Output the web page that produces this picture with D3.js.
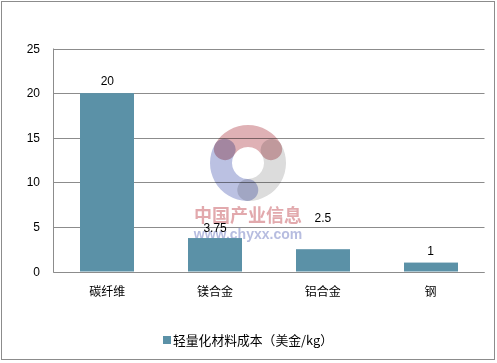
<!DOCTYPE html>
<html>
<head>
<meta charset="utf-8">
<script src="https://cdn.jsdelivr.net/npm/d3@7"></script>
<style>
	body { margin: 0; background: #fff; }
	text { font-family: "Liberation Sans", "Noto Sans CJK SC", sans-serif; fill: #000; }
	.cjk { font-family: "Noto Sans CJK SC", sans-serif; }
</style>
</head>
<body>
<div id="chart"></div>
<script>
// data
const categories = ["碳纤维", "镁合金", "铝合金", "钢"];
const costs = [20, 3.75, 2.5, 1];
const yTicks = [0, 5, 10, 15, 20, 25];
const seriesName = "轻量化材料成本（美金/kg）";

// label nudges (excel moved the 2.5 label up)
const labelLift = [12, 10, 31, 12];

const W = 497, H = 363;
const plot = {left: 53.5, right: 484.5, top: 48.5, bottom: 271.5};
const barColor = "#5B91A7";

const svg = d3.select("#chart").append("svg")
	.attr("width", W)
	.attr("height", H);

svg.append("rect")
	.attr("x", 1.5).attr("y", 1.5)
	.attr("width", 493).attr("height", 358)
	.attr("fill", "white")
	.attr("stroke", "#8c8c8c")
	.attr("stroke-width", 1);

const x = d3.scaleBand()
	.domain(categories)
	.range([plot.left, plot.right])
	.paddingInner(0.5)
	.paddingOuter(0.25);

const y = d3.scaleLinear()
	.domain([0, 25])
	.range([plot.bottom, plot.top]);

// grid lines
svg.append("g")
	.selectAll("line")
	.data(yTicks)
	.enter()
	.append("line")
	.attr("x1", plot.left)
	.attr("x2", plot.right)
	.attr("y1", d => Math.round(y(d)) + 0.5)
	.attr("y2", d => Math.round(y(d)) + 0.5)
	.attr("stroke", "#8c8c8c")
	.attr("stroke-width", 1);

// left axis line
svg.append("line")
	.attr("x1", plot.left).attr("x2", plot.left)
	.attr("y1", plot.top).attr("y2", Math.round(y(0)) + 0.5)
	.attr("stroke", "#8c8c8c");

// y tick labels
svg.append("g")
	.selectAll("text")
	.data(yTicks)
	.enter()
	.append("text")
	.attr("x", 40)
	.attr("y", d => y(d) + 4)
	.attr("text-anchor", "end")
	.attr("font-size", 12)
	.text(d => d);

// watermark logo
const logo = svg.append("g")
	.attr("transform", "translate(248,163)");
const arc = d3.arc().innerRadius(16).outerRadius(38).cornerRadius(16);
const logoParts = [
	{start: -1.45, end: 1.45, color: "#c97d83"},
	{start: 0.65, end: 3.55, color: "#c4c4c4"},
	{start: 2.75, end: 5.65, color: "#8d98cf"}
];
logo.selectAll("path")
	.data(logoParts)
	.enter()
	.append("path")
	.attr("d", d => arc({startAngle: d.start, endAngle: d.end}))
	.attr("fill", d => d.color)
	.attr("opacity", 0.6)
	.style("mix-blend-mode", "multiply");

svg.append("text")
	.attr("class", "cjk")
	.attr("x", 248).attr("y", 222)
	.attr("text-anchor", "middle")
	.attr("font-size", 18)
	.attr("font-weight", "bold")
	.style("fill", "#e2a9ad")
	.text("中国产业信息");
svg.append("text")
	.attr("x", 248).attr("y", 239)
	.attr("text-anchor", "middle")
	.attr("font-size", 14)
	.attr("font-weight", "bold")
	.style("fill", "#b7bde0")
	.text("www.chyxx.com");

// bars
svg.append("g")
	.selectAll("rect")
	.data(costs)
	.enter()
	.append("rect")
	.attr("x", (d, i) => Math.round(x(categories[i])))
	.attr("y", d => y(d))
	.attr("width", Math.round(x.bandwidth()))
	.attr("height", d => y(0) - y(d))
	.attr("fill", barColor);

// redraw baseline over bars
svg.append("line")
	.attr("x1", plot.left).attr("x2", plot.right)
	.attr("y1", Math.round(y(0)) + 0.5).attr("y2", Math.round(y(0)) + 0.5)
	.attr("stroke", "#8c8c8c");

// value labels
svg.append("g")
	.selectAll("text")
	.data(costs)
	.enter()
	.append("text")
	.attr("x", (d, i) => x(categories[i]) + x.bandwidth() / 2)
	.attr("y", (d, i) => y(d) - labelLift[i] + 4)
	.attr("text-anchor", "middle")
	.attr("font-size", 12)
	.text(d => d);

// category labels
svg.append("g")
	.selectAll("text")
	.data(categories)
	.enter()
	.append("text")
	.attr("class", "cjk")
	.attr("x", d => x(d) + x.bandwidth() / 2)
	.attr("y", 296)
	.attr("text-anchor", "middle")
	.attr("font-size", 12)
	.text(d => d);

// legend
svg.append("rect")
	.attr("x", 163).attr("y", 336)
	.attr("width", 8).attr("height", 8)
	.attr("fill", barColor);
svg.append("text")
	.attr("class", "cjk")
	.attr("x", 173).attr("y", 345)
	.attr("font-size", 12.8)
	.text(seriesName);
</script>
</body>
</html>
